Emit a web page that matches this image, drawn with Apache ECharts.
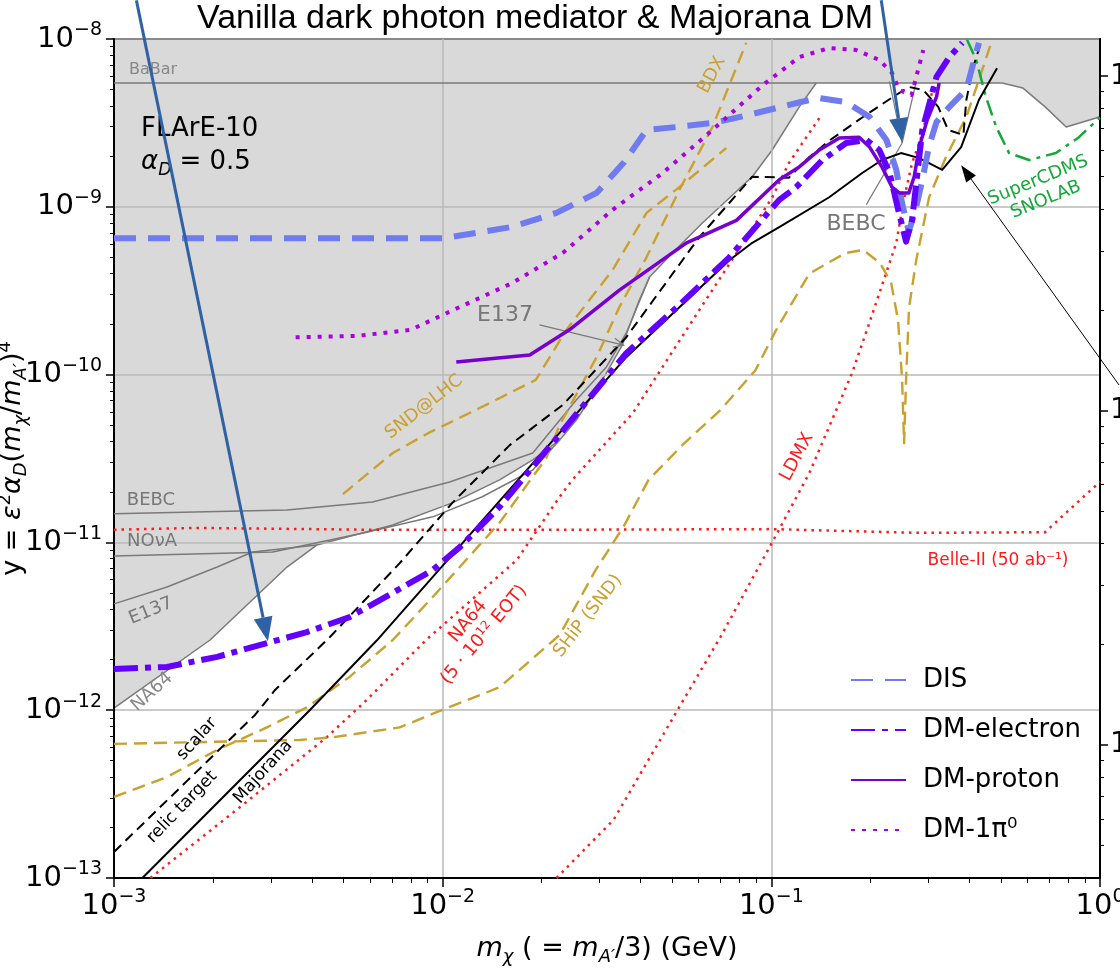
<!DOCTYPE html>
<html>
<head>
<meta charset="utf-8">
<script src="https://cdn.jsdelivr.net/npm/echarts@6/dist/echarts.min.js"></script>
<style>
html, body { margin: 0; background: #fff; }
#chart { width: 1120px; height: 972px; }
</style>
</head>
<body>
<div id="chart"></div>
<script>
// all curves: [m_chi (GeV), y]
var excluded = [[0.001,1.03e-12],[0.00196,2.62e-12],[0.00336,7.13e-12],[0.00414,9.64e-12],[0.00705,1.27e-11],[0.0107,1.72e-11],[0.0149,2.36e-11],[0.0188,3.1e-11],[0.0227,4.07e-11],[0.0255,5.36e-11],[0.030,8.67e-11],[0.0352,1.5e-10],[0.0397,2.79e-10],[0.0426,3.82e-10],[0.050,5.3e-10],[0.0617,8.0e-10],[0.0875,1.51e-9],[0.1006,2.18e-9],[0.1216,3.94e-9],[0.137,5.47e-9],[0.504,5.47e-9],[0.583,5.1e-9],[0.681,3.94e-9],[0.789,2.99e-9],[0.973,3.38e-9],[1.0,3.45e-9]]
var babar = [[0.001,5.47e-9],[0.137,5.47e-9]]
var bebc = [[0.001,1.48e-11],[0.00336,1.56e-11],[0.00612,1.74e-11],[0.0105,2.29e-11],[0.0188,3.41e-11],[0.0255,7.06e-11],[0.0315,1.11e-10],[0.0362,1.77e-10],[0.0426,3.82e-10]]
var nova = [[0.001,8.3e-12],[0.00304,8.77e-12],[0.00588,1.15e-11],[0.00933,1.42e-11],[0.0132,1.87e-11],[0.0188,2.7e-11],[0.0227,4.07e-11]]
var e137 = [[0.001,4.3e-12],[0.00145,5.42e-12],[0.00206,7.13e-12],[0.00264,8.77e-12],[0.00414,9.64e-12]]

var dis = [[0.001,6.5e-10],[0.01,6.5e-10],[0.0127,7.0e-10],[0.0163,7.6e-10],[0.0222,9.2e-10],[0.0294,1.21e-9],[0.0357,1.85e-9],[0.0417,2.87e-9],[0.0525,3.0e-9],[0.0662,3.16e-9],[0.0839,3.5e-9],[0.122,4.2e-9],[0.14,4.45e-9],[0.169,4.2e-9],[0.199,3.43e-9],[0.224,2.5e-9],[0.24,1.66e-9],[0.25,1.05e-9],[0.262,7.1e-10],[0.276,1.0e-9],[0.288,1.45e-9],[0.302,2.3e-9],[0.318,3.2e-9],[0.348,3.94e-9],[0.392,5.0e-9],[0.428,9.5e-9]]
var dmElectron = [[0.001,1.76e-12],[0.00145,1.81e-12],[0.00206,2.08e-12],[0.00292,2.51e-12],[0.00386,2.92e-12],[0.00521,3.59e-12],[0.00705,5.0e-12],[0.00933,6.85e-12],[0.0113,9.4e-12],[0.0149,1.63e-11],[0.0227,4.4e-11],[0.0362,1.34e-10],[0.0525,2.6e-10],[0.0745,5.0e-10],[0.1057,1.1e-9],[0.119,1.31e-9],[0.143,1.9e-9],[0.169,2.4e-9],[0.195,2.5e-9],[0.213,2.18e-9],[0.229,1.59e-9],[0.242,1.0e-9],[0.257,6.2e-10],[0.268,8.3e-10],[0.288,2.87e-9],[0.318,5.94e-9],[0.348,7.8e-9],[0.381,9.5e-9]]
var dmProton = [[0.011,1.19e-10],[0.0184,1.31e-10],[0.0243,1.85e-10],[0.0345,3.19e-10],[0.0552,6.1e-10],[0.0783,8.3e-10],[0.1057,1.45e-9],[0.1216,1.73e-9],[0.14,2.18e-9],[0.161,2.57e-9],[0.185,2.6e-9],[0.199,2.27e-9],[0.217,1.73e-9],[0.233,1.31e-9],[0.245,1.21e-9],[0.262,1.21e-9],[0.272,1.51e-9],[0.282,2.27e-9],[0.298,3.29e-9],[0.318,4.5e-9],[0.324,5.47e-9]]
var dmPi0 = [[0.00357,1.67e-10],[0.00548,1.7e-10],[0.008,1.85e-10],[0.0103,2.33e-10],[0.0163,3.52e-10],[0.0232,5.31e-10],[0.0329,9.6e-10],[0.0467,1.59e-9],[0.0662,2.87e-9],[0.094,5.3e-9],[0.1216,7.8e-9],[0.15,8.84e-9],[0.181,8.6e-9],[0.213,7.5e-9],[0.233,6.27e-9],[0.245,4.97e-9],[0.267,4.64e-9],[0.29,8.6e-9]]

var relicMajorana = [[0.00122,1e-13],[0.00394,1e-12],[0.0063,2.6e-12],[0.0171,2.4e-11],[0.0362,1.27e-10],[0.0745,4.8e-10],[0.0875,6.1e-10],[0.106,7.6e-10],[0.15,1.14e-9],[0.189,1.59e-9],[0.217,1.9e-9],[0.248,2.09e-9],[0.282,1.95e-9],[0.331,1.66e-9],[0.378,2.27e-9],[0.428,4.33e-9],[0.486,6.7e-9]]
var relicScalar = [[0.001,1.43e-13],[0.00269,9.4e-13],[0.00309,1.32e-12],[0.00454,2.73e-12],[0.00739,7.5e-12],[0.0107,1.72e-11],[0.016,3.8e-11],[0.0232,6.6e-11],[0.0362,1.67e-10],[0.0604,6.6e-10],[0.0875,1.51e-9],[0.113,1.49e-9],[0.1305,1.98e-9],[0.151,2.5e-9],[0.19,3.43e-9],[0.227,4.33e-9],[0.262,5.18e-9],[0.29,4.97e-9],[0.322,3.94e-9],[0.345,2.87e-9],[0.384,2.68e-9],[0.392,4.33e-9],[0.411,6.8e-9],[0.4375,9.9e-9]]

var na64 = [[0.00129,1.0e-13],[0.00242,2.65e-13],[0.00444,6.9e-13],[0.00587,1.15e-12],[0.0089,2.62e-12],[0.0168,7.85e-12],[0.0227,1.87e-11],[0.0248,2.36e-11],[0.0379,5.9e-11],[0.0552,1.85e-10],[0.0783,5.3e-10],[0.1007,1.14e-9],[0.113,1.82e-9],[0.14,3.38e-9]]
var ldmx = [[0.0222,1.0e-13],[0.0331,2.22e-13],[0.0518,1.0e-12],[0.07,2.73e-12],[0.1014,1.03e-11],[0.1305,2.59e-11],[0.176,1.02e-10],[0.2,2.11e-10],[0.24,6.1e-10],[0.254,1.14e-9],[0.268,1.82e-9],[0.286,2.6e-9],[0.298,3.62e-9],[0.313,5.47e-9]]
var belle2 = [[0.001,1.19e-11],[0.0018,1.22e-11],[0.0059,1.19e-11],[0.023,1.19e-11],[0.1,1.2e-11],[0.28,1.14e-11],[0.68,1.15e-11],[1.0,2.3e-11]]

var bdx = [[0.001,3.04e-13],[0.00145,4.0e-13],[0.00206,5.8e-13],[0.00292,7.9e-13],[0.00386,1.04e-12],[0.00521,1.58e-12],[0.00705,2.62e-12],[0.00933,4.73e-12],[0.0149,1.31e-11],[0.0207,3.2e-11],[0.0227,5.0e-11],[0.0294,1.27e-10],[0.0345,2.53e-10],[0.0417,5.0e-10],[0.0525,1.26e-9],[0.0662,2.99e-9],[0.0839,9.5e-9]]
var sndLhc = [[0.00497,1.94e-11],[0.00705,3.41e-11],[0.00906,4.49e-11],[0.01315,6.41e-11],[0.0192,9.3e-11],[0.0238,1.85e-10],[0.0329,4.2e-10],[0.0417,9.2e-10],[0.0525,1.31e-9],[0.0729,2.24e-9]]
var shipSnd = [[0.001,6.3e-13],[0.00367,6.64e-13],[0.00464,6.9e-13],[0.0074,7.9e-13],[0.00993,1.0e-12],[0.0149,1.37e-12],[0.0227,2.81e-12],[0.0292,6.85e-12],[0.0355,1.24e-11],[0.0423,2.36e-11],[0.0544,3.91e-11],[0.07,6.15e-11],[0.0894,1.06e-10],[0.1035,1.85e-10],[0.1305,4.0e-10],[0.168,5.3e-10],[0.1905,5.53e-10],[0.2143,4.62e-10],[0.2315,3.52e-10],[0.243,2.11e-10],[0.25,9.3e-11],[0.2535,3.9e-11],[0.257,9.3e-11],[0.2624,2.5e-10],[0.276,4.82e-10],[0.302,1.14e-9],[0.34,1.98e-9],[0.392,3.43e-9],[0.428,5.7e-9],[0.47,9.9e-9]]
var superCdms = [[0.394,9.9e-9],[0.42,7.5e-9],[0.45,4.5e-9],[0.483,3.0e-9],[0.529,2.09e-9],[0.608,1.9e-9],[0.734,2.09e-9],[0.863,2.6e-9],[0.98,3.29e-9],[1.0,3.4e-9]]

// pointer lines / arrows (data coordinates)
var bebcPointers = [[[0.1945,1.03e-9],[0.25,2.4e-9]], [[0.2287,5.6e-9],[0.25,2.4e-9]], [[0.276,5.6e-9],[0.25,2.4e-9]]]
var e137Arrow = [[0.0197,1.98e-10],[0.0355,1.5e-10]]
var blueArrows = [[[0.00117,1.7e-8],[0.00294,2.58e-12]], [[0.216,1.7e-8],[0.25,2.43e-9]]]
var blackArrow = [[1.143,8.67e-11],[0.378,1.77e-9]]

var rightMajor = [1, 10, 100]

var FONT = "'DejaVu Sans', sans-serif"
var chart = echarts.init(document.getElementById('chart'))

// minor tick positions 2..9 inside each decade
function minors(decades, lo, hi) {
  var out = []
  decades.forEach(function (d) {
    for (var k = 2; k < 10; k++) {
      var v = +(d * k).toPrecision(3)
      if (v > lo && v < hi) out.push(v)
    }
  })
  return out
}
var xMinor = minors([0.001, 0.01, 0.1], 0.001, 1)
var yMinor = minors([1e-13, 1e-12, 1e-11, 1e-10, 1e-9], 1e-13, 1e-8)
var rMinor = minors([0.1, 1, 10], 0.4, 129)

function powLabel(v) {
  var e = Math.round(Math.log10(v))
  return '{b|10}{s|' + (e < 0 ? '\u2212' + (-e) : e) + '}'
}
var powRich = {
  b: { fontSize: 29, lineHeight: 36, fontFamily: FONT, color: '#000' },
  s: { fontSize: 19, lineHeight: 19, verticalAlign: 'top', fontFamily: FONT, color: '#000' }
}
var nameRich = {
  n: { fontSize: 27, lineHeight: 34, fontFamily: FONT, color: '#000' },
  i: { fontSize: 27, lineHeight: 34, fontStyle: 'italic', fontFamily: FONT, color: '#000' },
  sp: { fontSize: 18, lineHeight: 18, verticalAlign: 'top', fontFamily: FONT, color: '#000' },
  sb: { fontSize: 18, lineHeight: 18, verticalAlign: 'bottom', fontStyle: 'italic', fontFamily: FONT, color: '#000' }
}

function curve(name, data, color, width, dash, z) {
  return {
    name: name, type: 'line', data: data, symbol: 'none', showSymbol: false, clip: true, silent: true,
    z: z || 2, lineStyle: { color: color, width: width, type: dash, join: 'round' }, itemStyle: { color: color }
  }
}

var GRAY = '#7a7a7a', GOLD = '#c9a12f', RED = '#ff1a1a', GREEN = '#13a83a'
var bebcSeries = bebcPointers.map(function (p) { return curve('', p, GRAY, 1.2, 'solid', 1) })

var option = {
  animation: false,
  backgroundColor: '#fff',
  grid: {
    left: 114, right: 20, top: 39, bottom: 94, containLabel: false, outerBoundsMode: 'none',
    show: true, borderColor: '#000', borderWidth: 2, backgroundColor: 'transparent'
  },
  legend: {
    data: ['DIS', 'DM-electron', 'DM-proton', 'DM-1\u03c0\u2070'],
    orient: 'vertical', left: 845, top: 660, itemWidth: 55, itemHeight: 14, itemGap: 20,
    itemStyle: { opacity: 0 },
    textStyle: { fontSize: 26, fontFamily: FONT, color: '#000', lineHeight: 30, padding: [0, 0, 0, 12] }
  },
  xAxis: [
    {
      type: 'log', logBase: 10, min: 0.001, max: 1, position: 'bottom',
      axisLine: { show: true, lineStyle: { color: '#000', width: 2 } },
      axisTick: { show: true, length: 9, lineStyle: { color: '#000', width: 1.5 } },
      axisLabel: { formatter: powLabel, rich: powRich, margin: 10 },
      splitLine: { show: true, lineStyle: { color: '#b8b8b8', width: 1.5 } },
      name: '{i|m}{sb|\u03c7}{n| ( = }{i|m}{sb|A\u2032}{n|/3) (GeV)}',
      nameLocation: 'middle', nameGap: 54, nameMoveOverlap: false, nameTextStyle: { rich: nameRich }
    },
    {
      type: 'log', logBase: 10, min: 0.001, max: 1, position: 'bottom',
      axisLine: { show: false },
      axisTick: { show: true, length: 5, customValues: xMinor, lineStyle: { color: '#000', width: 1 } },
      axisLabel: { show: false }, splitLine: { show: false }
    }
  ],
  yAxis: [
    {
      type: 'log', logBase: 10, min: 1e-13, max: 1e-8, position: 'left',
      axisLine: { show: true, lineStyle: { color: '#000', width: 2 } },
      axisTick: { show: true, length: 8, lineStyle: { color: '#000', width: 1.5 } },
      axisLabel: { formatter: powLabel, rich: powRich, margin: 12 },
      splitLine: { show: true, lineStyle: { color: '#b8b8b8', width: 1.5 } },
      name: '{n|y = }{i|\u03b5}{sp|2}{i|\u03b1}{sb|D}{n|(}{i|m}{sb|\u03c7}{n|/}{i|m}{sb|A\u2032}{n|)}{sp|4}',
      nameLocation: 'middle', nameGap: 84, nameRotate: 90, nameMoveOverlap: false, nameTextStyle: { rich: nameRich }
    },
    {
      type: 'log', logBase: 10, min: 1e-13, max: 1e-8, position: 'left',
      axisLine: { show: false },
      axisTick: { show: true, length: 4, customValues: yMinor, lineStyle: { color: '#000', width: 1 } },
      axisLabel: { show: false }, splitLine: { show: false }
    },
    {
      type: 'log', logBase: 10, min: 0.4, max: 129, position: 'right',
      axisLine: { show: true, lineStyle: { color: '#000', width: 2 } },
      axisTick: { show: true, length: 8, customValues: rightMajor, lineStyle: { color: '#000', width: 1.5 } },
      axisLabel: { customValues: rightMajor, formatter: powLabel, rich: powRich, margin: 10 },
      splitLine: { show: false }
    },
    {
      type: 'log', logBase: 10, min: 0.4, max: 129, position: 'right',
      axisLine: { show: false },
      axisTick: { show: true, length: 4, customValues: rMinor, lineStyle: { color: '#000', width: 1 } },
      axisLabel: { show: false }, splitLine: { show: false }
    }
  ],
  series: [
    {
      type: 'line', data: excluded, symbol: 'none', silent: true, z: -1,
      lineStyle: { color: GRAY, width: 1.5 },
      areaStyle: { color: '#d9d9d9', opacity: 1, origin: 'end' }
    },
    curve('', babar, GRAY, 1.5, 'solid', 1),
    curve('', bebc, GRAY, 1.5, 'solid', 1),
    curve('', nova, GRAY, 1.5, 'solid', 1),
    curve('', e137, GRAY, 1.5, 'solid', 1),
    curve('', e137Arrow, GRAY, 1.3, 'solid', 1),
    curve('', belle2, RED, 2.5, [2.5, 5], 3),
    curve('', na64, RED, 2.5, [2.5, 5], 3),
    curve('', ldmx, RED, 2.5, [2.5, 5], 3),
    curve('', bdx, GOLD, 2.4, [13, 7], 3),
    curve('', sndLhc, GOLD, 2.4, [13, 7], 3),
    curve('', shipSnd, GOLD, 2.4, [13, 7], 3),
    curve('', superCdms, GREEN, 2.5, [16, 6, 4, 6], 3),
    curve('', relicScalar, '#000', 2, [10, 6], 4),
    curve('', relicMajorana, '#000', 2, 'solid', 4),
    curve('DIS', dis, '#6f7bef', 6, [22, 12], 5),
    curve('DM-1\u03c0\u2070', dmPi0, '#a800e0', 4, [4, 7], 5),
    curve('DM-proton', dmProton, '#7500d0', 3.5, 'solid', 6),
    curve('DM-electron', dmElectron, '#6400ff', 6, [24, 7, 6, 7], 6)
  ].concat(bebcSeries)
}
chart.setOption(option)

function P(p) { return chart.convertToPixel({ gridIndex: 0 }, p) }
function head(p0, p1, len, w) {
  var dx = p1[0] - p0[0], dy = p1[1] - p0[1], L = Math.sqrt(dx * dx + dy * dy)
  dx /= L; dy /= L
  var bx = p1[0] - dx * len, by = p1[1] - dy * len
  return { base: [bx, by], pts: [[bx - dy * w / 2, by + dx * w / 2], p1, [bx + dy * w / 2, by - dx * w / 2]] }
}
function arrow(a, color, width, len, w) {
  var p0 = P(a[0]), p1 = P(a[1]), h = head(p0, p1, len, w)
  return [
    { type: 'line', z: 100, shape: { x1: p0[0], y1: p0[1], x2: h.base[0], y2: h.base[1] }, style: { stroke: color, lineWidth: width } },
    { type: 'polygon', z: 100, shape: { points: h.pts }, style: { fill: color } }
  ]
}
// rotDeg: counter-clockwise, as in the figure
function txt(text, x, y, color, size, rotDeg, extra) {
  var st = { text: text, fill: color, fontSize: size, fontFamily: FONT, align: 'center', verticalAlign: 'middle' }
  if (extra) for (var k in extra) st[k] = extra[k]
  return { type: 'text', x: x, y: y, rotation: (rotDeg || 0) * Math.PI / 180, z: 50, style: st }
}

var gfx = []
// E137 open arrowhead
var ea0 = P(e137Arrow[0]), ea1 = P(e137Arrow[1]), eh = head(ea0, ea1, 10, 9)
gfx.push({ type: 'polyline', z: 50, shape: { points: eh.pts }, style: { stroke: GRAY, lineWidth: 1.3, fill: null } })

gfx.push(txt('Vanilla dark photon mediator & Majorana DM', 535, 19, '#000', 34, 0, { fontFamily: "'Liberation Sans', Arial, sans-serif" }))
gfx.push({ type: 'text', x: 141, y: 113, z: 50, style: {
  text: '{a|FLArE-10}\n{g|\u03b1}{d|D}{a| = 0.5}', fontFamily: FONT, fill: '#000',
  rich: {
    a: { fontSize: 26, lineHeight: 33, fontFamily: FONT },
    g: { fontSize: 26, lineHeight: 33, fontStyle: 'italic', fontFamily: FONT },
    d: { fontSize: 17, lineHeight: 17, verticalAlign: 'bottom', fontStyle: 'italic', fontFamily: FONT }
  }
} })

gfx.push(txt('BaBar', 153, 70, '#888', 16))
gfx.push(txt('BEBC', 151, 500, '#777', 18))
gfx.push(txt('NO\u03bdA', 152, 541, '#777', 18))
gfx.push(txt('E137', 151, 611, '#777', 18, 22))
gfx.push(txt('NA64', 152, 692, '#888', 18, 42))
gfx.push(txt('E137', 505, 315, '#777', 22))
gfx.push(txt('BEBC', 856, 224, '#777', 22))
gfx.push(txt('BDX', 712, 75, GOLD, 18, 62))
gfx.push(txt('SND@LHC', 424, 407, GOLD, 18, 38))
gfx.push(txt('SHiP (SND)', 588, 616, GOLD, 18, 52))
gfx.push(txt('LDMX', 797, 457, RED, 18, 62))
gfx.push({ type: 'text', x: 476, y: 628, rotation: 50 * Math.PI / 180, z: 50, style: {
  text: '{a|NA64}\n{a|(5 \u00b7 10}{s|12}{a| EOT)}', fill: RED, align: 'center', verticalAlign: 'middle',
  rich: { a: { fontSize: 18, lineHeight: 21, fontFamily: FONT, fill: RED }, s: { fontSize: 12, lineHeight: 12, verticalAlign: 'top', fontFamily: FONT, fill: RED } }
} })
gfx.push(txt('Belle-II (50 ab\u207b\u00b9)', 998, 561, RED, 17))
gfx.push(txt('SuperCDMS\nSNOLAB', 1042, 190, GREEN, 18, 22, { lineHeight: 21 }))
gfx.push(txt('scalar', 197, 739, '#000', 17, 48))
gfx.push(txt('relic target', 182, 807, '#000', 17, 46))
gfx.push(txt('Majorana', 263, 772, '#000', 17, 48))

gfx = gfx.concat(arrow(blackArrow, '#000', 1, 17, 12))
blueArrows.forEach(function (a) { gfx = gfx.concat(arrow(a, '#2f62a4', 3, 24, 19)) })

chart.setOption({ graphic: gfx })
</script>
</body>
</html>
